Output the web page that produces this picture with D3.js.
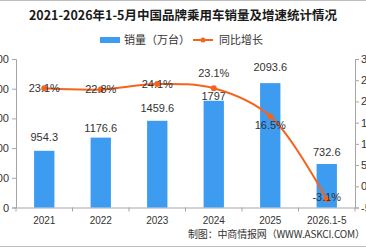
<!DOCTYPE html>
<html>
<head>
<meta charset="utf-8">
<script src="https://cdn.jsdelivr.net/npm/d3@7"></script>
<style>
  body { margin: 0; background: #fff; }
  svg { display: block; font-family: "Liberation Sans", "Noto Sans CJK SC", sans-serif; }
</style>
</head>
<body>
<div id="chart"></div>
<script>
// chart data
var categories = ["2021", "2022", "2023", "2024", "2025", "2026.1-5"];
var sales = [954.3, 1176.6, 1459.6, 1797, 2093.6, 732.6];
var growth = [23.1, 22.8, 24.1, 23.1, 16.5, -3.1];
var leftTicks = [0, 500, 1000, 1500, 2000, 2500];
var rightTicks = [-5, 0, 5, 10, 15, 20, 25, 30];

// label nudges (pixels), purely cosmetic
var barLabelGap = [14, 9, 13, 5, 16, 12];
var lineLabelDy = [0, 0, 0, -15, 9, -2];

var width = 366, height = 248;
var plot = { left: 16, right: 355, top: 59, bottom: 207.5 };

var blue = "#3d9cf0", orange = "#f4641c", axisColor = "#a6a6a6";

var svg = d3.select("#chart")
    .append("svg")
    .attr("width", width)
    .attr("height", height);

// frame lines top and bottom
svg.append("line").attr("x1", 0).attr("x2", width).attr("y1", 0.5).attr("y2", 0.5)
    .attr("stroke", "#bdbdbd");
svg.append("line").attr("x1", 0).attr("x2", width).attr("y1", height - 1.5).attr("y2", height - 1.5)
    .attr("stroke", "#bdbdbd");

// title
svg.append("text")
    .attr("x", width / 2)
    .attr("y", 20)
    .attr("text-anchor", "middle")
    .style("font-family", "'Noto Sans CJK SC', sans-serif")
    .style("font-size", "12.5px")
    .style("font-weight", "bold")
    .attr("fill", "#1a1a1a")
    .text("2021-2026年1-5月中国品牌乘用车销量及增速统计情况");

// legend
var legend = svg.append("g").style("font-family", "'Noto Sans CJK SC', sans-serif").style("font-size", "11px");
legend.append("rect").attr("x", 100).attr("y", 37).attr("width", 20).attr("height", 6).attr("fill", blue);
legend.append("text").attr("x", 124).attr("y", 44).attr("fill", "#333").text("销量（万台）");
legend.append("line").attr("x1", 193).attr("x2", 213).attr("y1", 40).attr("y2", 40)
    .attr("stroke", orange).attr("stroke-width", 2);
legend.append("circle").attr("cx", 203).attr("cy", 40).attr("r", 2.5).attr("fill", orange);
legend.append("text").attr("x", 219).attr("y", 44).attr("fill", "#333").text("同比增长");

// scales
var x = d3.scaleBand()
    .domain(categories)
    .range([plot.left, plot.right])
    .paddingInner(0.64)
    .paddingOuter(0.32);

var yLeft = d3.scaleLinear().domain([0, 2500]).range([plot.bottom, plot.top]);
var yRight = d3.scaleLinear().domain([-5, 30]).range([plot.bottom, plot.top]);

// left axis
var leftAxis = svg.append("g")
    .attr("transform", "translate(" + plot.left + ",0)")
    .call(d3.axisLeft(yLeft).tickValues(leftTicks).tickSize(4).tickPadding(3).tickFormat(d3.format("d")));
leftAxis.selectAll("text").style("font-size", "11px").attr("fill", "#333");

// right axis
var rightAxis = svg.append("g")
    .attr("transform", "translate(" + plot.right + ",0)")
    .call(d3.axisRight(yRight).tickValues(rightTicks).tickSize(4).tickPadding(2).tickFormat(d => d + "%"));
rightAxis.selectAll("text").style("font-size", "11px").attr("fill", "#333");

[leftAxis, rightAxis].forEach(function(g) {
    g.selectAll("line, path").attr("stroke", axisColor);
});

// bottom axis
var bottomAxis = svg.append("g")
    .attr("transform", "translate(0," + plot.bottom + ")")
    .call(d3.axisBottom(x).tickSize(0).tickPadding(9));
bottomAxis.select("path").attr("stroke", axisColor);
bottomAxis.selectAll("text").style("font-size", "10px").attr("fill", "#333");

// boundary ticks between categories
bottomAxis.selectAll(".bound")
    .data(d3.range(categories.length + 1))
    .enter()
    .append("line")
    .attr("class", "bound")
    .attr("x1", i => plot.left + i * x.step())
    .attr("x2", i => plot.left + i * x.step())
    .attr("y1", 0)
    .attr("y2", 4)
    .attr("stroke", axisColor);

// bars
svg.selectAll(".bar")
    .data(sales)
    .enter()
    .append("rect")
    .attr("class", "bar")
    .attr("x", (d, i) => x(categories[i]))
    .attr("y", d => yLeft(d))
    .attr("width", x.bandwidth())
    .attr("height", d => yLeft(0) - yLeft(d))
    .attr("fill", blue);

// bar labels
svg.selectAll(".barLabel")
    .data(sales)
    .enter()
    .append("text")
    .attr("class", "barLabel")
    .attr("x", (d, i) => x(categories[i]) + x.bandwidth() / 2)
    .attr("y", (d, i) => yLeft(d) - barLabelGap[i])
    .attr("dy", "0.35em")
    .attr("text-anchor", "middle")
    .style("font-size", "11px")
    .attr("fill", "#333")
    .text(d => d);

// growth line
var line = d3.line()
    .x((d, i) => x(categories[i]) + x.bandwidth() / 2)
    .y(d => yRight(d))
    .curve(d3.curveCatmullRom.alpha(0.5));

svg.append("path")
    .datum(growth)
    .attr("d", line)
    .attr("fill", "none")
    .attr("stroke", orange)
    .attr("stroke-width", 2);

svg.selectAll(".dot")
    .data(growth)
    .enter()
    .append("circle")
    .attr("class", "dot")
    .attr("cx", (d, i) => x(categories[i]) + x.bandwidth() / 2)
    .attr("cy", d => yRight(d))
    .attr("r", 3)
    .attr("fill", orange);

// growth labels
svg.selectAll(".lineLabel")
    .data(growth)
    .enter()
    .append("text")
    .attr("class", "lineLabel")
    .attr("x", (d, i) => x(categories[i]) + x.bandwidth() / 2)
    .attr("y", (d, i) => yRight(d) + lineLabelDy[i])
    .attr("dy", "0.35em")
    .attr("text-anchor", "middle")
    .style("font-size", "11px")
    .attr("fill", "#333")
    .text(d => d.toFixed(1) + "%");

// source note
svg.append("text")
    .attr("x", 365)
    .attr("y", 238)
    .attr("text-anchor", "end")
    .attr("textLength", 177)
    .attr("lengthAdjust", "spacing")
    .style("font-family", "'Noto Sans CJK SC', sans-serif")
    .style("font-size", "10px")
    .attr("fill", "#333")
    .text("制图：中商情报网（WWW.ASKCI.COM）");
</script>
</body>
</html>
